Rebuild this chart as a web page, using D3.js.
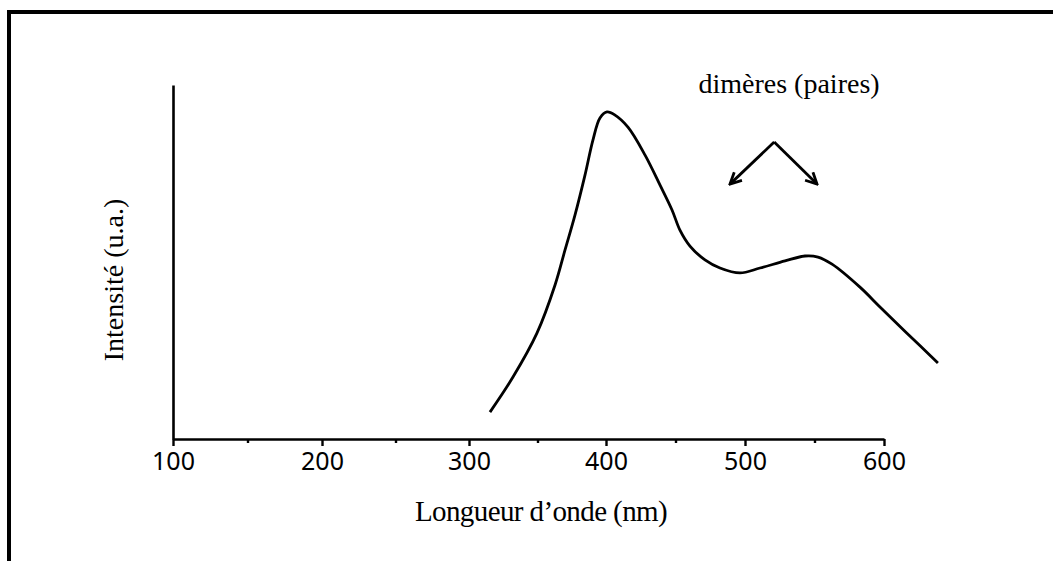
<!DOCTYPE html>
<html>
<head>
<meta charset="utf-8">
<script src="https://cdn.jsdelivr.net/npm/d3@7"></script>
<style>
  body { margin: 0; background: #fff; }
  .serif { font-family: "Liberation Serif", "Times New Roman", serif; }
</style>
</head>
<body>
<div id="chart"></div>
<script>
// Wavelength (nm) and intensity (a.u.)
var wavelength = [315.3, 332.1, 349.6, 362.8, 370.1, 377.4, 384.7, 390.5, 395.6, 400.7, 406.5, 415.8, 428.1, 438.8,
                  447.5, 453.2, 460.4, 471.2, 482, 496.4, 510.8, 528.8, 543.2, 552.5, 562.6, 582.7, 597.1, 616.5, 638.8];
var intensity = [0.076, 0.175, 0.299, 0.435, 0.534, 0.633, 0.746, 0.845, 0.907, 0.924, 0.915, 0.881, 0.802, 0.718,
                 0.647, 0.590, 0.545, 0.506, 0.483, 0.469, 0.483, 0.503, 0.517, 0.514, 0.494, 0.429, 0.373, 0.299, 0.215];

var majorTicks = [100, 200, 300, 400, 500, 600];
var minorTicks = [150, 250, 350, 450, 550];

// annotation anchor (data units): apex of the arrows and the two ends
var arrowApex = [521, 0.839];
var arrowEnds = [[489.2, 0.720], [551.8, 0.720]];
var noteText = "dimères (paires)";

var svgWidth = 1053;
var svgHeight = 561;

var SVG = d3.select("#chart")
  .append("svg")
  .attr("width", svgWidth)
  .attr("height", svgHeight);

// frame (top + left edge only visible)
SVG.append("path")
  .attr("d", "M9,561 L9,12 L1053,12")
  .attr("fill", "none")
  .attr("stroke", "#000")
  .attr("stroke-width", 4);

// x scale follows the tick spacing of the scanned figure
var xScale = d3.scaleLinear()
  .domain(majorTicks)
  .range([173, 322, 469, 606, 745, 884]);

var yScale = d3.scaleLinear()
  .domain([0, 1])
  .range([439, 85]);

var chart_group = SVG.append("g");

// y axis: bare line
var yAxis = chart_group.append("g")
  .attr("transform", "translate(" + xScale(100) + ",0)")
  .call(d3.axisLeft(yScale).tickValues([]).tickSizeOuter(0));
yAxis.select(".domain").attr("stroke-width", 2.6);

// x axis with labelled ticks
var xAxis = chart_group.append("g")
  .attr("transform", "translate(0," + yScale(0) + ")")
  .call(d3.axisBottom(xScale).tickValues(majorTicks).tickSize(7).tickSizeOuter(0).tickPadding(6));
xAxis.select(".domain").attr("stroke-width", 2.6);
xAxis.selectAll(".tick line").attr("stroke-width", 2.4);
xAxis.selectAll(".tick text")
  .attr("font-family", "'Noto Sans', sans-serif")
  .attr("font-size", "25px")
  .attr("fill", "#000");

// minor ticks
var minor = chart_group.append("g")
  .attr("transform", "translate(0," + yScale(0) + ")")
  .call(d3.axisBottom(xScale).tickValues(minorTicks).tickSize(4).tickFormat(""));
minor.select(".domain").remove();
minor.selectAll(".tick line").attr("stroke-width", 2.4);

// spectrum
var points = wavelength.map(function(w, i) { return [w, intensity[i]]; });
var line = d3.line()
  .x(d => xScale(d[0]))
  .y(d => yScale(d[1]))
  .curve(d3.curveCatmullRom.alpha(0.5));

chart_group.append("path")
  .datum(points)
  .attr("d", line)
  .attr("fill", "none")
  .attr("stroke", "#000")
  .attr("stroke-width", 2.8)
  .attr("stroke-linejoin", "round");

// arrow heads
SVG.append("defs").append("marker")
  .attr("id", "head")
  .attr("viewBox", "0 0 10 10")
  .attr("refX", 9)
  .attr("refY", 5)
  .attr("markerWidth", 5)
  .attr("markerHeight", 5)
  .attr("markerUnits", "strokeWidth")
  .attr("orient", "auto")
  .append("path")
  .attr("d", "M1,1 L9,5 L1,9")
  .attr("fill", "none")
  .attr("stroke", "#000")
  .attr("stroke-width", 2);

arrowEnds.forEach(function(e) {
  chart_group.append("line")
    .attr("x1", xScale(arrowApex[0]))
    .attr("y1", yScale(arrowApex[1]))
    .attr("x2", xScale(e[0]))
    .attr("y2", yScale(e[1]))
    .attr("stroke", "#000")
    .attr("stroke-width", 2.8)
    .attr("marker-end", "url(#head)");
});

// annotation text
chart_group.append("text")
  .attr("class", "serif")
  .attr("x", xScale(531.7))
  .attr("y", yScale(0.977))
  .attr("text-anchor", "middle")
  .attr("font-size", "28px")
  .text(noteText);

// axis titles
chart_group.append("text")
  .attr("class", "serif")
  .attr("x", 541)
  .attr("y", 521)
  .attr("text-anchor", "middle")
  .attr("font-size", "29px")
  .attr("letter-spacing", "-0.6px")
  .text("Longueur d’onde (nm)");

chart_group.append("text")
  .attr("class", "serif")
  .attr("transform", "translate(123,280) rotate(-90)")
  .attr("text-anchor", "middle")
  .attr("font-size", "28px")
  .text("Intensité (u.a.)");
</script>
</body>
</html>
